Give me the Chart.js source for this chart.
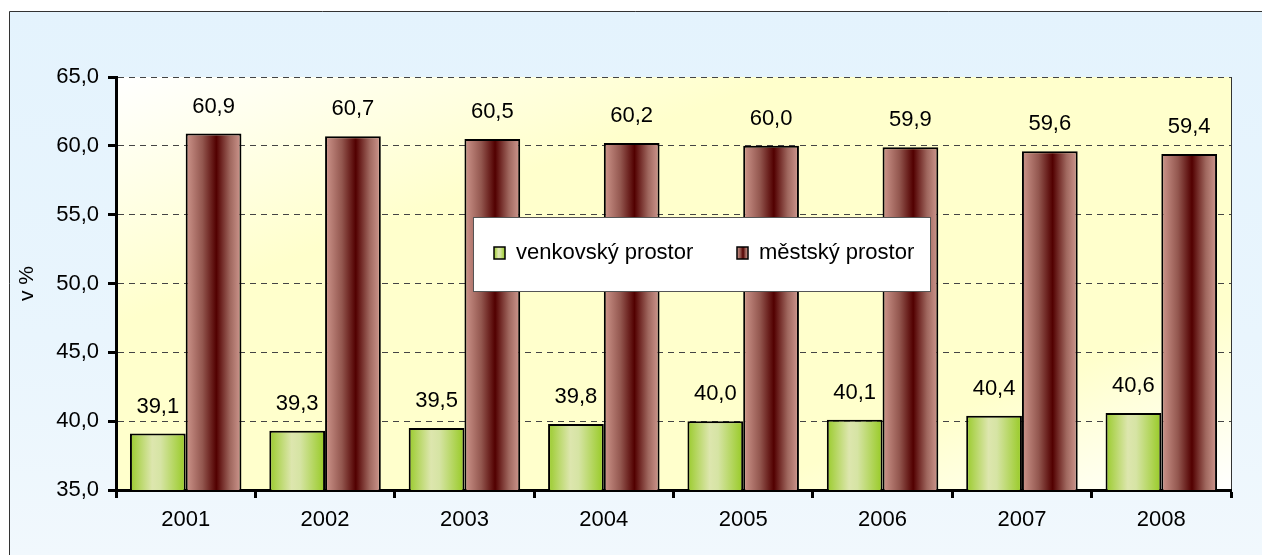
<!DOCTYPE html>
<html>
<head>
<meta charset="utf-8">
<script src="https://cdn.jsdelivr.net/npm/chart.js@4/dist/chart.umd.min.js"></script>
<style>
    html, body { margin: 0; padding: 0; background: #ffffff; }
    #wrap { width: 1262px; height: 555px; }
</style>
</head>
<body>
<div id="wrap"><canvas id="barChart" width="1262" height="555"></canvas></div>
<script>
// Chart data
const years = ['2001', '2002', '2003', '2004', '2005', '2006', '2007', '2008'];
const venkovsky = [39.1, 39.3, 39.5, 39.8, 40.0, 40.1, 40.4, 40.6];
const mestsky = [60.9, 60.7, 60.5, 60.2, 60.0, 59.9, 59.6, 59.4];
const seriesNames = ['venkovský prostor', 'městský prostor'];
const yTicks = [35, 40, 45, 50, 55, 60, 65];

const FONT = 'Liberation Sans, Arial, sans-serif';
const FS = 22;
const fmt = v => v.toFixed(1).replace('.', ',');

const greenStops = [[0, '#9acb2c'], [0.4, '#dde6ae'], [0.55, '#d6e4a4'], [1, '#97ca24']];
const brownStops = [[0, '#cf978d'], [0.3, '#93574f'], [0.55, '#520000'], [0.8, '#a0685f'], [1, '#d09990']];

// Horizontal gradient for one bar, computed from the x scale
function barGradient(ctx, datasetIndex, stops) {
    const chart = ctx.chart;
    const xs = chart.scales.x;
    if (!xs || ctx.type !== 'data' || !(xs.width > 0)) return stops[0][1];
    const center = xs.getPixelForValue(ctx.dataIndex);
    const catW = xs.width / years.length;
    const barW = catW * 0.8 / 2;
    const left = datasetIndex === 0 ? center - barW : center;
    if (!isFinite(left) || !isFinite(barW)) return stops[0][1];
    const g = chart.ctx.createLinearGradient(left, 0, left + barW, 0);
    stops.forEach(s => g.addColorStop(s[0], s[1]));
    return g;
}

// Backgrounds: outer panel and plot area
const backgroundPlugin = {
    id: 'backgrounds',
    beforeDraw(chart) {
        const c = chart.ctx;
        const a = chart.chartArea;
        c.save();
        c.fillStyle = '#ffffff';
        c.fillRect(0, 0, chart.width, chart.height);

        const bg = c.createLinearGradient(0, 11, 0, chart.height);
        bg.addColorStop(0, '#e4f3fd');
        bg.addColorStop(0.6, '#e9f5fd');
        bg.addColorStop(1, '#f1f8fd');
        c.fillStyle = bg;
        c.fillRect(9, 11, chart.width - 9, chart.height - 11);

        c.strokeStyle = '#333333';
        c.lineWidth = 1;
        c.beginPath();
        c.moveTo(9.5, chart.height);
        c.lineTo(9.5, 11.5);
        c.lineTo(chart.width, 11.5);
        c.stroke();

        // plot area: white corners top-left / bottom-right, yellow across the other diagonal
        c.translate(a.left, a.top);
        c.scale(a.right - a.left, a.bottom - a.top);
        const pg = c.createLinearGradient(0, 0, 1, 1);
        pg.addColorStop(0, '#ffffff');
        pg.addColorStop(0.3, '#ffffcc');
        pg.addColorStop(0.78, '#ffffcc');
        pg.addColorStop(1, '#ffffff');
        c.fillStyle = pg;
        c.fillRect(0, 0, 1, 1);
        c.restore();

        c.save();
        c.strokeStyle = '#333333';
        c.lineWidth = 1;
        c.beginPath();
        c.moveTo(a.right + 0.5, a.top);
        c.lineTo(a.right + 0.5, a.bottom);
        c.stroke();
        c.restore();
    }
};

// Value labels above bars
const valueLabels = {
    id: 'valueLabels',
    afterDatasetsDraw(chart) {
        const c = chart.ctx;
        c.save();
        c.font = FS + 'px ' + FONT;
        c.fillStyle = '#000000';
        c.textAlign = 'center';
        c.textBaseline = 'middle';
        chart.data.datasets.forEach((ds, i) => {
            chart.getDatasetMeta(i).data.forEach((bar, j) => {
                c.fillText(fmt(ds.data[j]), bar.x, bar.y - 27);
            });
        });
        c.restore();
    }
};

// Legend box sitting over the bars
const boxLegend = {
    id: 'boxLegend',
    afterDraw(chart) {
        const c = chart.ctx;
        const box = { x: 473, y: 217, w: 457, h: 74 };
        c.save();
        c.fillStyle = '#ffffff';
        c.fillRect(box.x, box.y, box.w, box.h);
        c.strokeStyle = '#555555';
        c.lineWidth = 1;
        c.strokeRect(box.x + 0.5, box.y + 0.5, box.w, box.h);

        const items = [
            { x: 494, stops: greenStops },
            { x: 737, stops: brownStops }
        ];
        const cy = box.y + 36;
        c.font = FS + 'px ' + FONT;
        c.textBaseline = 'middle';
        c.textAlign = 'left';
        chart.data.datasets.forEach((ds, i) => {
            const it = items[i];
            const g = c.createLinearGradient(it.x, 0, it.x + 11, 0);
            it.stops.forEach(s => g.addColorStop(s[0], s[1]));
            c.fillStyle = g;
            c.fillRect(it.x, cy - 6, 11, 12);
            c.strokeStyle = '#000000';
            c.lineWidth = 1.5;
            c.strokeRect(it.x, cy - 6, 11, 12);
            c.fillStyle = '#000000';
            c.fillText(ds.label, it.x + 22, cy);
        });
        c.restore();
    }
};

new Chart(document.getElementById('barChart'), {
    type: 'bar',
    data: {
        labels: years,
        datasets: [
            {
                label: seriesNames[0],
                data: venkovsky,
                backgroundColor: ctx => barGradient(ctx, 0, greenStops),
                borderColor: '#000000',
                borderWidth: 2,
                categoryPercentage: 0.8,
                barPercentage: 1.0
            },
            {
                label: seriesNames[1],
                data: mestsky,
                backgroundColor: ctx => barGradient(ctx, 1, brownStops),
                borderColor: '#000000',
                borderWidth: 2,
                categoryPercentage: 0.8,
                barPercentage: 1.0
            }
        ]
    },
    options: {
        responsive: false,
        animation: false,
        devicePixelRatio: 1,
        layout: { padding: { left: 10, top: 77, right: 31, bottom: 0 } },
        plugins: {
            legend: { display: false },
            tooltip: { enabled: false }
        },
        scales: {
            x: {
                afterFit: s => { s.height = 65; },
                grid: {
                    display: true,
                    drawOnChartArea: false,
                    offset: true,
                    tickLength: 8,
                    tickWidth: 3,
                    tickColor: '#000000'
                },
                border: { color: '#000000', width: 3 },
                ticks: {
                    color: '#000000',
                    font: { family: FONT, size: FS },
                    padding: 9,
                    maxRotation: 0
                }
            },
            y: {
                min: yTicks[0],
                max: yTicks[yTicks.length - 1],
                afterFit: s => { s.width = 106; },
                afterBuildTicks: s => { s.ticks = yTicks.map(v => ({ value: v })); },
                grid: {
                    color: '#444444',
                    lineWidth: 1,
                    tickLength: 8,
                    tickWidth: 3,
                    tickColor: '#000000',
                    tickBorderDash: []
                },
                border: { color: '#000000', width: 3, dash: [6, 5] },
                ticks: {
                    color: '#000000',
                    font: { family: FONT, size: FS },
                    padding: 9,
                    callback: v => fmt(v)
                },
                title: {
                    display: true,
                    text: 'v %',
                    color: '#000000',
                    font: { family: FONT, size: 21 },
                    padding: { top: 5, bottom: 0 }
                }
            }
        }
    },
    plugins: [backgroundPlugin, valueLabels, boxLegend]
});
</script>
</body>
</html>
